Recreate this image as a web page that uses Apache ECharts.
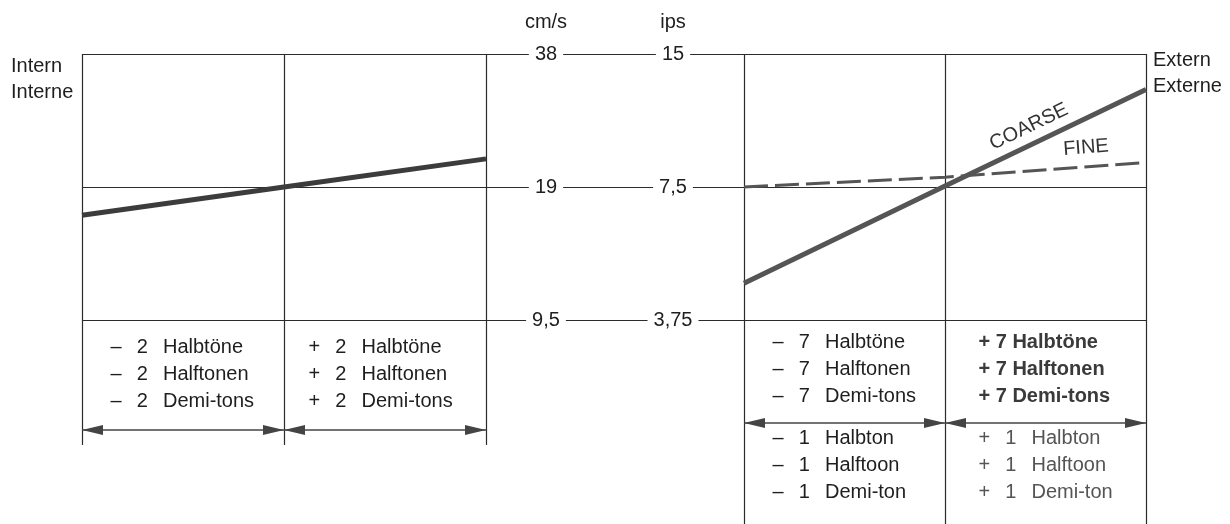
<!DOCTYPE html>
<html>
<head>
<meta charset="utf-8">
<script src="https://cdn.jsdelivr.net/npm/echarts@6/dist/echarts.min.js"></script>
<style>
html,body{margin:0;padding:0;background:#fff;}
#c{width:1230px;height:524px;}
</style>
</head>
<body>
<div id="c"></div>
<script>
// ---- speed scale (tick values and their printed labels) ----
const cmsTicks = [9.5, 19, 38];
const cmsLabels = ['9,5', '19', '38'];
const ipsTicks = [3.75, 7.5, 15];
const ipsLabels = ['3,75', '7,5', '15'];

// ---- Intern panel: semitone offset -> speed (cm/s) ----
const internX = [-2, 0, 2];
const internSpeed = [16.4, 19, 22.0];

// ---- Extern panel ----
const coarseX = [-7, 0, 7];          // semitones (COARSE)
const coarseSpeed = [11.5, 19.1, 31.6];
const fineX = [-1, 0, 1];            // semitones (FINE)
const fineSpeed = [19.0, 20.0, 21.6];

// ---- range arrows (semitones) ----
const internRanges = [[-2, 0], [0, 2]];
const coarseRanges = [[-7, 0], [0, 7]];

// ---- table texts ----
const internTexts = ['–\u2009  2\u2009  Halbtöne\n–\u2009  2\u2009  Halftonen\n–\u2009  2\u2009  Demi-tons',
                     '+\u2009  2\u2009  Halbtöne\n+\u2009  2\u2009  Halftonen\n+\u2009  2\u2009  Demi-tons'];
const coarseTexts = ['–\u2009  7\u2009  Halbtöne\n–\u2009  7\u2009  Halftonen\n–\u2009  7\u2009  Demi-tons',
                     '+ 7 Halbtöne\n+ 7 Halftonen\n+ 7 Demi-tons'];
const fineTexts = ['–\u2009  1\u2009  Halbton\n–\u2009  1\u2009  Halftoon\n–\u2009  1\u2009  Demi-ton',
                   '+\u2009  1\u2009  Halbton\n+\u2009  1\u2009  Halftoon\n+\u2009  1\u2009  Demi-ton'];

const FONT = '"Liberation Sans", Arial, Helvetica, sans-serif';
const FS = 20;
const LINE = {color: '#2b2b2b', width: 1.2};
const TXT = '#1e1e1e';

const chart = echarts.init(document.getElementById('c'));
const pairs = (xs, ys) => xs.map((x, i) => [x, ys[i]]);
const nearestLabel = (ticks, labels) => v => {
  let best = 0;
  ticks.forEach((t, i) => { if (Math.abs(t - v) < Math.abs(ticks[best] - v)) best = i; });
  return labels[best];
};
const block = names => (value, index) => String(value).split('\n').map(l => '{' + names[index] + '|' + l + '}').join('\n');
const rs = (width, color, weight) => ({width: width, align: 'left', fontSize: FS, lineHeight: 27, color: color, fontFamily: FONT, fontWeight: weight || 'normal'});
const ARROW = 'path://M0,-21 M0,0 L5,21 L-5,21 Z';

const hiddenX = (grid, min, max) => ({gridIndex: grid, type: 'value', min: min, max: max, show: false, axisLine: {onZero: false}});
const splitX = (grid, min, max, interval) => ({
  gridIndex: grid, type: 'value', min: min, max: max, interval: interval,
  axisLine: {show: false, onZero: false}, axisTick: {show: false}, axisLabel: {show: false},
  splitLine: {show: true, lineStyle: LINE}
});
const logY = (grid, min, max) => ({gridIndex: grid, type: 'log', logBase: 2, min: min, max: max, show: false, axisLine: {onZero: false}});
const unitY = (grid) => ({gridIndex: grid, type: 'value', min: 0, max: 1, inverse: true, show: false, axisLine: {onZero: false}});
const labelY = (min, max, ticks, labels, offset, name) => ({
  gridIndex: 0, type: 'log', logBase: 2, min: min, max: max, position: 'left', offset: offset, z: 5,
  name: name, nameLocation: 'end', nameGap: 22,
  nameTextStyle: {fontSize: FS, fontFamily: FONT, color: TXT, align: 'center', verticalAlign: 'bottom'},
  axisLine: {show: false, onZero: false}, axisTick: {show: false, customValues: ticks},
  splitLine: {show: false},
  axisLabel: {customValues: ticks, formatter: nearestLabel(ticks, labels), align: 'center', margin: 0,
    fontSize: FS, fontFamily: FONT, color: TXT, backgroundColor: '#fff', padding: [2, 6], verticalAlign: 'middle'}
});

const option = {
  backgroundColor: '#fff',
  animation: false,
  title: [
    {text: 'Intern\nInterne', left: 11, top: 53, padding: 0,
     textStyle: {fontSize: FS, fontWeight: 'normal', lineHeight: 26.5, color: TXT, fontFamily: FONT}},
    {text: 'Extern\nExterne', left: 1153, top: 47, padding: 0,
     textStyle: {fontSize: FS, fontWeight: 'normal', lineHeight: 26.5, color: TXT, fontFamily: FONT}}
  ],
  grid: [
    {left: 82, width: 1064, top: 54, height: 266},   // 0 speed lines across
    {left: 82, width: 404, top: 54, height: 266},    // 1 intern plot
    {left: 82, width: 404, top: 320, height: 125},   // 2 intern table
    {left: 744, width: 402, top: 54, height: 266},   // 3 extern plot
    {left: 744, width: 402, top: 320, height: 204}   // 4 extern table
  ],
  xAxis: [
    hiddenX(0, 0, 1),                 // 0
    splitX(1, -2, 2, 2),              // 1
    splitX(2, -2, 2, 2),              // 2
    {gridIndex: 2, type: 'category', data: internTexts, position: 'top', boundaryGap: true,
     axisLine: {show: false, onZero: false}, axisTick: {show: false}, splitLine: {show: false},
     axisLabel: {inside: true, margin: 14, interval: 0, formatter: block(['l', 'r']),
       rich: {l: rs(145, TXT), r: rs(153, TXT)}}},                                  // 3
    splitX(3, -7, 7, 7),              // 4
    hiddenX(3, -1, 1),                // 5 fine scale
    splitX(4, -7, 7, 7),              // 6
    {gridIndex: 4, type: 'category', data: coarseTexts, position: 'top', boundaryGap: true,
     axisLine: {show: false, onZero: false}, axisTick: {show: false}, splitLine: {show: false},
     axisLabel: {inside: true, margin: 9, interval: 0, formatter: block(['l', 'b']),
       rich: {l: rs(144, TXT), b: rs(134, '#3a3a3a', 'bold')}}},                   // 7
    {gridIndex: 4, type: 'category', data: fineTexts, position: 'bottom', boundaryGap: true,
     axisLine: {show: false, onZero: false}, axisTick: {show: false}, splitLine: {show: false},
     axisLabel: {inside: true, margin: 18, interval: 0, formatter: block(['l', 'g']),
       rich: {l: rs(144, TXT), g: rs(134, '#555')}}}                                 // 8
  ],
  yAxis: [
    {gridIndex: 0, type: 'log', logBase: 2, min: 9.5, max: 38,
     axisLine: {show: false, onZero: false}, axisTick: {show: false, customValues: cmsTicks},
     axisLabel: {show: false}, splitLine: {show: true, lineStyle: LINE}},           // 0
    labelY(9.5, 38, cmsTicks, cmsLabels, -464, 'cm/s'),                            // 1
    labelY(3.75, 15, ipsTicks, ipsLabels, -591, 'ips'),                            // 2
    logY(1, 9.5, 38),                                                              // 3
    unitY(2),                                                                      // 4
    logY(3, 9.5, 38),                                                              // 5
    unitY(4)                                                                       // 6
  ],
  series: [
    {type: 'line', name: 'Intern', xAxisIndex: 1, yAxisIndex: 3, data: pairs(internX, internSpeed),
     symbol: 'none', silent: true, z: 4, lineStyle: {color: '#3c3c3c', width: 5}},
    {type: 'line', name: 'COARSE', xAxisIndex: 4, yAxisIndex: 5, data: pairs(coarseX, coarseSpeed),
     symbol: 'none', silent: true, z: 4, lineStyle: {color: '#555', width: 5},
     markLine: {silent: true, symbol: 'none', lineStyle: {color: 'rgba(0,0,0,0)'},
       label: {show: true, position: 'insideStartTop', distance: [59, 7], formatter: 'COARSE',
         color: '#333', fontSize: FS, fontFamily: FONT},
       data: [[{coord: [coarseX[1], coarseSpeed[1]]}, {coord: [coarseX[2], coarseSpeed[2]]}]]}},
    {type: 'line', name: 'FINE', xAxisIndex: 5, yAxisIndex: 5, data: pairs(fineX, fineSpeed),
     symbol: 'none', silent: true, z: 3, lineStyle: {color: '#555', width: 3, type: [24, 7]},
     markLine: {silent: true, symbol: 'none', lineStyle: {color: 'rgba(0,0,0,0)'},
       label: {show: true, position: 'insideEndTop', distance: [36, 9], formatter: 'FINE',
         color: '#333', fontSize: FS, fontFamily: FONT},
       data: [[{coord: [fineX[1], fineSpeed[1]]}, {coord: [fineX[2], fineSpeed[2]]}]]}},
    {type: 'lines', coordinateSystem: 'cartesian2d', xAxisIndex: 2, yAxisIndex: 4, silent: true, z: 4,
     symbol: [ARROW, ARROW], symbolSize: [[10, 42], [10, 42]],
     lineStyle: {color: '#444', width: 1.5, opacity: 1},
     data: internRanges.map(r => ({coords: [[r[0], 0.88], [r[1], 0.88]]}))},
    {type: 'lines', coordinateSystem: 'cartesian2d', xAxisIndex: 6, yAxisIndex: 6, silent: true, z: 4,
     symbol: [ARROW, ARROW], symbolSize: [[10, 42], [10, 42]],
     lineStyle: {color: '#444', width: 1.5, opacity: 1},
     data: coarseRanges.map(r => ({coords: [[r[0], 0.505], [r[1], 0.505]]}))}
  ]
};
chart.setOption(option);
</script>
</body>
</html>
